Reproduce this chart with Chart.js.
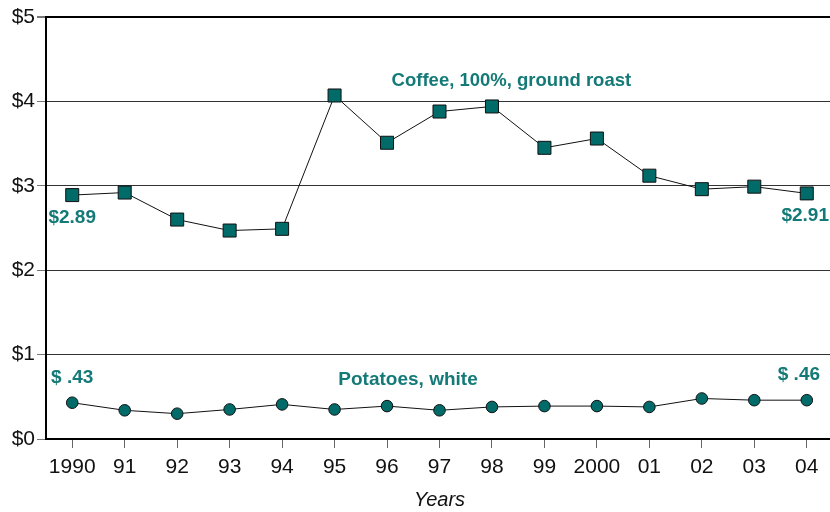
<!DOCTYPE html>
<html><head><meta charset="utf-8">
<script src="https://cdn.jsdelivr.net/npm/chart.js@4/dist/chart.umd.min.js"></script>
<style>html,body{margin:0;padding:0;background:#fff;overflow:hidden}#wrap{width:833px;height:512px;overflow:hidden}</style>
</head><body><div id="wrap"><canvas id="c" width="833" height="512" style="width:833px;height:512px"></canvas></div>
<script>
const years = ['1990','91','92','93','94','95','96','97','98','99','2000','01','02','03','04'];
const coffee = [2.89,2.92,2.60,2.47,2.49,4.07,3.51,3.88,3.94,3.45,3.56,3.12,2.96,2.99,2.91];
const potatoes = [0.43,0.34,0.30,0.35,0.41,0.35,0.39,0.34,0.38,0.39,0.39,0.38,0.48,0.46,0.46];
const yTicks = [0,1,2,3,4,5];
const annoText = ['Coffee, 100%, ground roast','$2.89','$2.91','Potatoes, white','$ .43','$ .46'];
const annoX = [8.37,0,13.97,6.4,0,13.85];
const annoY = [4.24,2.62,2.65,0.70,0.72,0.76];

const TEAL = '#006b68';
const TXT = '#147a77';
const FONT = '"Liberation Sans", Arial, sans-serif';

const annoPlugin = {
  id:'anno',
  afterDatasetsDraw(chart){
    const {ctx, scales:{x,y}} = chart;
    ctx.save();
    ctx.fillStyle = TXT;
    ctx.textAlign = 'center';
    ctx.textBaseline = 'middle';
    annoText.forEach((t,i)=>{
      ctx.font = (i===0 ? 'bold 18.5px ' : 'bold 19px ') + FONT;
      ctx.fillText(t, x.getPixelForValue(annoX[i]), y.getPixelForValue(annoY[i]));
    });
    ctx.restore();
  }
};

new Chart(document.getElementById('c'), {
  type:'line',
  data:{
    labels: years,
    datasets:[
      {data: coffee, borderColor:'#111', borderWidth:1, pointStyle:'rect', pointRadius:9.2, pointHoverRadius:9.2,
       pointBackgroundColor:TEAL, pointBorderColor:'#111', pointBorderWidth:1, tension:0},
      {data: potatoes, borderColor:'#111', borderWidth:1, pointStyle:'circle', pointRadius:5.8, pointHoverRadius:5.8,
       pointBackgroundColor:TEAL, pointBorderColor:'#111', pointBorderWidth:1, tension:0}
    ]
  },
  options:{
    responsive:false, animation:false, devicePixelRatio:1,
    layout:{autoPadding:false, padding:{top:17,right:0,left:0,bottom:0}},
    plugins:{legend:{display:false}, tooltip:{enabled:false}},
    scales:{
      x:{
        offset:true,
        afterFit(s){ s.height = 73; s.paddingLeft = 0; s.paddingRight = 0; },
        grid:{offset:false, drawOnChartArea:false, drawTicks:true, tickLength:9, tickColor:'#666', tickWidth:1},
        border:{display:true, color:'#000', width:2},
        ticks:{color:'#111', font:{family:FONT, size:21}, padding:7, maxRotation:0, autoSkip:false},
        title:{display:true, text:'Years', color:'#111', font:{family:FONT, size:20, style:'italic'}, padding:{top:0,bottom:0}}
      },
      y:{
        min:0, max:5,
        afterFit(s){ s.width = 46; },
        afterBuildTicks(s){ s.ticks = yTicks.map(v=>({value:v})); },
        grid:{color:(c)=> c.tick && c.tick.value===5 ? '#000' : '#333', lineWidth:(c)=> c.tick && c.tick.value===5 ? 2 : 1,
              tickLength:9, tickColor:'#777', drawTicks:true},
        border:{display:true, color:'#000', width:2},
        ticks:{color:'#111', font:{family:FONT, size:21}, padding:2, callback:(v)=>'$'+v}
      }
    }
  },
  plugins:[annoPlugin]
});
</script></body></html>
